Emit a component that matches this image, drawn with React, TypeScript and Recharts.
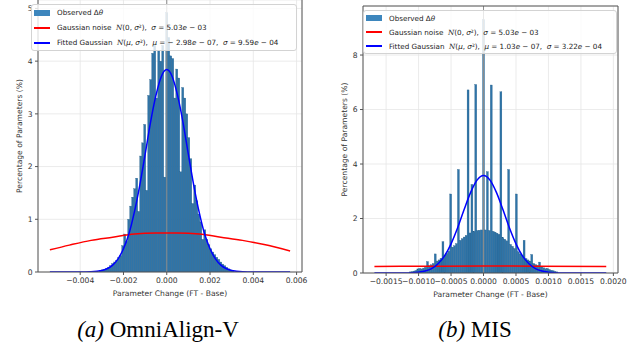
import React from 'react';
import {
  ComposedChart,
  Bar,
  Line,
  XAxis,
  YAxis,
  CartesianGrid,
  ReferenceLine,
  Legend,
} from 'recharts';

// ---------------- data ----------------
// (a) OmniAlign-V histogram: bin width and first bin centre, heights in %
const LEFT_BIN_WIDTH = 0.0000925;
const LEFT_FIRST_CENTER = -0.0030525;
const LEFT_HIST = [
  0.03, 0.04, 0.05, 0.07, 0.09, 0.12, 0.16, 0.19, 0.22, 0.27, 0.31,
  0.5, 0.72, 0.58, 1.0, 1.25, 1.42, 1.58, 1.78, 1.15, 2.2, 2.45, 2.8, 1.55, 3.35, 3.65, 4.15, 4.3, 3.3, 4.2, 4.0, 4.3, 1.8,
  4.92,
  4.45, 4.1, 4.05, 3.3, 3.85, 3.68, 1.9, 3.5, 3.3, 3.0, 2.55, 2.15, 1.3, 1.65, 1.35, 1.1, 0.95, 0.62, 0.8, 0.62, 0.52,
  0.44, 0.38, 0.33, 0.28, 0.24, 0.19, 0.15, 0.12, 0.09, 0.06, 0.04, 0.03,
];
const LEFT_BLUE_X = [
  -0.0054, -0.004, -0.0035, -0.003, -0.0025, -0.00225, -0.002, -0.00175, -0.0015, -0.00125, -0.001, -0.00075,
  -0.0005, -0.00025, 0, 0.00025, 0.0005, 0.00075, 0.001, 0.00125, 0.0015, 0.00175, 0.002, 0.00225, 0.0025, 0.003,
  0.0035, 0.004, 0.0057,
];
const LEFT_BLUE_Y = [
  0, 0.001, 0.005, 0.03, 0.13, 0.25, 0.44, 0.72, 1.13, 1.64, 2.23, 2.84, 3.35, 3.71, 3.84, 3.71, 3.35, 2.84, 2.23,
  1.64, 1.13, 0.72, 0.44, 0.25, 0.13, 0.03, 0.005, 0.001, 0,
];
const LEFT_RED_X = [-0.0054, -0.0045, -0.0035, -0.0025, -0.0015, -0.0005, 0.0005, 0.0015, 0.0025, 0.0035, 0.0045, 0.0057];
const LEFT_RED_Y = [0.42, 0.51, 0.6, 0.66, 0.72, 0.74, 0.74, 0.72, 0.66, 0.6, 0.52, 0.4];

// (b) MIS histogram
const RIGHT_BIN_WIDTH = 0.00002975;
const RIGHT_FIRST_CENTER = -0.0011305;
const RIGHT_HIST = [
  0.04, 0.05, 0.07, 0.09, 0.15, 0.17, 0.15, 0.18, 0.21, 0.42, 0.27, 0.3, 0.35, 0.7, 0.44, 0.48, 0.54, 1.15, 0.66,
  0.72, 0.8, 2.9, 0.95, 1.0, 1.08, 3.8, 1.2, 1.26, 1.32, 1.38, 6.72, 1.47, 3.25, 1.53, 6.92, 1.56, 1.57, 1.58,
  9.3,
  1.58, 3.72, 1.56, 6.9, 1.53, 1.5, 1.46, 1.42, 6.65, 1.3, 1.24, 1.18, 3.8, 1.05, 0.98, 0.9, 2.9, 0.78, 0.7, 0.64,
  1.2, 0.53, 0.48, 0.44, 0.68, 0.35, 0.31, 0.28, 0.4, 0.22, 0.19, 0.16, 0.17, 0.13, 0.1, 0.08, 0.06, 0.04,
];
const RIGHT_BLUE_X = [
  -0.00168, -0.0014, -0.0012, -0.0011, -0.001, -0.0009, -0.0008, -0.0007, -0.0006, -0.0005, -0.0004, -0.0003,
  -0.0002, -0.0001, 0, 0.0001, 0.0002, 0.0003, 0.0004, 0.0005, 0.0006, 0.0007, 0.0008, 0.0009, 0.001, 0.0011,
  0.0012, 0.0014, 0.00189,
];
const RIGHT_BLUE_Y = [
  0, 0.001, 0.003, 0.01, 0.03, 0.07, 0.16, 0.34, 0.63, 1.07, 1.65, 2.32, 2.95, 3.41, 3.58, 3.41, 2.95, 2.32, 1.65,
  1.07, 0.63, 0.34, 0.16, 0.07, 0.03, 0.01, 0.003, 0.001, 0,
];
const RIGHT_RED_X = [-0.00168, -0.0008, 0, 0.0008, 0.00189];
const RIGHT_RED_Y = [0.24, 0.25, 0.255, 0.25, 0.235];

// ticks
const LEFT_X_TICKS = [-0.004, -0.002, 0, 0.002, 0.004, 0.006];
const LEFT_X_LABELS = ['\u22120.004', '\u22120.002', '0.000', '0.002', '0.004', '0.006'];
const LEFT_Y_TICKS = [0, 1, 2, 3, 4, 5];
const RIGHT_X_TICKS = [-0.0015, -0.001, -0.0005, 0, 0.0005, 0.001, 0.0015, 0.002];
const RIGHT_X_LABELS = [
  '\u22120.0015', '\u22120.0010', '\u22120.0005', '0.0000', '0.0005', '0.0010', '0.0015', '0.0020',
];
const RIGHT_Y_TICKS = [0, 2, 4, 6, 8];

const X_TITLE = 'Parameter Change (FT - Base)';
const Y_TITLE = 'Percentage of Parameters (%)';

// ---------------- styles ----------------
const FONT = 'DejaVu Sans';
const TICK_STYLE = { fontSize: 7.6, fill: '#333', fontFamily: FONT };
const SPINE = '#555';
const BAR_FILL = '#2f74a8';
const BAR_EDGE = '#1f5a85';

const Math = ({ children }: { children: React.ReactNode }) => (
  <span style={{ fontStyle: 'italic' }}>{children}</span>
);
const Cal = () => (
  <span style={{ fontFamily: 'DejaVu Serif', fontStyle: 'italic' }}>N</span>
);

const noiseLabel = (
  <span>
    Gaussian noise&nbsp;&nbsp;<Cal />(0, <Math>σ</Math>²),&nbsp;&nbsp;<Math>σ</Math> = 5.03<Math>e</Math> − 03
  </span>
);
const leftFitLabel = (
  <span>
    Fitted Gaussian&nbsp;&nbsp;<Cal />(<Math>μ</Math>, <Math>σ</Math>²),&nbsp;&nbsp;<Math>μ</Math> = − 2.98
    <Math>e</Math> − 07,&nbsp;&nbsp;<Math>σ</Math> = 9.59<Math>e</Math> − 04
  </span>
);
const rightFitLabel = (
  <span>
    Fitted Gaussian&nbsp;&nbsp;<Cal />(<Math>μ</Math>, <Math>σ</Math>²),&nbsp;&nbsp;<Math>μ</Math> = 1.03
    <Math>e</Math> − 07,&nbsp;&nbsp;<Math>σ</Math> = 3.22<Math>e</Math> − 04
  </span>
);
const observedLabel = (
  <span>
    Observed Δ<Math>θ</Math>
  </span>
);

type Row = { kind: 'patch' | 'line'; color: string; label: React.ReactNode };

const LegendBox = ({ rows, width, rowH }: { rows: Row[]; width: number; rowH: number }) => (
  <div
    style={{
      width,
      boxSizing: 'border-box',
      border: '1px solid #d3d3d3',
      borderRadius: 3,
      background: 'rgba(255,255,255,0.8)',
      fontFamily: FONT,
      fontSize: 7.2,
      color: '#222',
      paddingLeft: 2,
    }}
  >
    {rows.map((r, i) => (
      <div key={i} style={{ display: 'flex', alignItems: 'center', height: rowH, whiteSpace: 'nowrap' }}>
        <span
          style={{
            display: 'inline-block',
            width: 16,
            height: r.kind === 'patch' ? 6 : 2,
            background: r.color,
            marginRight: 7,
            flex: 'none',
          }}
        />
        {r.label}
      </div>
    ))}
  </div>
);

type PanelProps = {
  width: number;
  height: number;
  margin: { top: number; right: number; bottom: number; left: number };
  yAxisWidth: number;
  xAxisHeight: number;
  xDomain: [number, number];
  yDomain: [number, number];
  xTicks: number[];
  xLabels: string[];
  yTicks: number[];
  hist: number[];
  firstCenter: number;
  binWidth: number;
  blueX: number[];
  blueY: number[];
  redX: number[];
  redY: number[];
  drawTop: boolean;
  legendPos: { left: number; top: number; width: number; rowH: number };
  fitLabel: React.ReactNode;
};

function Panel(p: PanelProps) {
  const bins = p.hist.map((v, k) => ({ x: p.firstCenter + k * p.binWidth, v }));
  const blue = p.blueX.map((x, i) => ({ x, y: p.blueY[i] }));
  const red = p.redX.map((x, i) => ({ x, y: p.redY[i] }));
  const rows: Row[] = [
    { kind: 'patch', color: '#3d86bd', label: observedLabel },
    { kind: 'line', color: '#ff0000', label: noiseLabel },
    { kind: 'line', color: '#0000ff', label: p.fitLabel },
  ];
  // pixel width of one histogram bin (plot width / domain span * bin width)
  const plotW = p.width - p.margin.left - p.margin.right - p.yAxisWidth;
  const binPx = (plotW / (p.xDomain[1] - p.xDomain[0])) * p.binWidth;
  const BinShape = (sp: any) => {
    if (!sp.height || sp.height <= 0) return <g />;
    const cx = sp.x + sp.width / 2;
    return (
      <rect
        x={cx - binPx / 2}
        y={sp.y}
        width={binPx}
        height={sp.height}
        fill={BAR_FILL}
        stroke={BAR_EDGE}
        strokeWidth={0.3}
      />
    );
  };
  return (
    <ComposedChart width={p.width} height={p.height} data={bins} margin={p.margin}>
      <CartesianGrid stroke="#e6e6e6" strokeWidth={0.8} />
      <XAxis
        dataKey="x"
        type="number"
        domain={p.xDomain}
        allowDataOverflow
        ticks={p.xTicks}
        interval={0}
        tickFormatter={(_v: number, i: number) => p.xLabels[i]}
        height={p.xAxisHeight}
        tickSize={3}
        tickMargin={2.5}
        stroke={SPINE}
        tick={TICK_STYLE}
        label={(lp: any) => {
          const vb = lp.viewBox;
          return (
            <text
              x={vb.x + vb.width / 2}
              y={vb.y + 21}
              textAnchor="middle"
              dominantBaseline="central"
              fontSize={7.6}
              fill="#333"
              fontFamily={FONT}
            >
              {X_TITLE}
            </text>
          );
        }}
      />
      <YAxis
        type="number"
        domain={p.yDomain}
        allowDataOverflow
        ticks={p.yTicks}
        interval={0}
        width={p.yAxisWidth}
        tickSize={3}
        tickMargin={2.5}
        stroke={SPINE}
        tick={TICK_STYLE}
        label={(lp: any) => {
          const vb = lp.viewBox;
          const x = vb.x + vb.width - 19;
          const y = vb.y + vb.height / 2;
          return (
            <text
              x={x}
              y={y}
              transform={`rotate(-90, ${x}, ${y})`}
              textAnchor="middle"
              dominantBaseline="central"
              fontSize={7.6}
              fill="#333"
              fontFamily={FONT}
            >
              {Y_TITLE}
            </text>
          );
        }}
      />
      <Bar dataKey="v" barSize={2} fill={BAR_FILL} shape={BinShape} isAnimationActive={false} />
      <ReferenceLine x={0} stroke="#8c8c8c" strokeWidth={1} />
      <ReferenceLine x={p.xDomain[1]} stroke={SPINE} strokeWidth={1} />
      {p.drawTop && <ReferenceLine y={p.yDomain[1]} stroke={SPINE} strokeWidth={1} />}
      <Line
        data={red}
        dataKey="y"
        type="monotone"
        stroke="#ff0000"
        strokeWidth={1.5}
        dot={false}
        isAnimationActive={false}
      />
      <Line
        data={blue}
        dataKey="y"
        type="monotone"
        stroke="#0000ff"
        strokeWidth={1.5}
        dot={false}
        isAnimationActive={false}
      />
      <Legend
        layout="vertical"
        align="center"
        verticalAlign="middle"
        wrapperStyle={{ left: p.legendPos.left, top: p.legendPos.top, width: p.legendPos.width }}
        content={() => <LegendBox rows={rows} width={p.legendPos.width} rowH={p.legendPos.rowH} />}
      />
    </ComposedChart>
  );
}

export default function App() {
  return (
    <div style={{ position: 'absolute', left: 0, top: 0, width: 633, height: 345, background: '#fff', overflow: 'hidden' }}>
      <div style={{ position: 'absolute', left: 0, top: 0 }}>
        <Panel
          width={316}
          height={300}
          margin={{ top: 0, right: 14, bottom: 0, left: 8 }}
          yAxisWidth={30}
          xAxisHeight={28}
          xDomain={[-0.00595, 0.00625]}
          yDomain={[0, 5.16]}
          xTicks={LEFT_X_TICKS}
          xLabels={LEFT_X_LABELS}
          yTicks={LEFT_Y_TICKS}
          hist={LEFT_HIST}
          firstCenter={LEFT_FIRST_CENTER}
          binWidth={LEFT_BIN_WIDTH}
          blueX={LEFT_BLUE_X}
          blueY={LEFT_BLUE_Y}
          redX={LEFT_RED_X}
          redY={LEFT_RED_Y}
          drawTop={false}
          legendPos={{ left: 31, top: 4, width: 266, rowH: 15 }}
          fitLabel={leftFitLabel}
        />
      </div>
      <div style={{ position: 'absolute', left: 316, top: 0 }}>
        <Panel
          width={317}
          height={300}
          margin={{ top: 6, right: 15, bottom: 0, left: 9 }}
          yAxisWidth={38}
          xAxisHeight={27}
          xDomain={[-0.001856, 0.002071]}
          yDomain={[0, 9.8]}
          xTicks={RIGHT_X_TICKS}
          xLabels={RIGHT_X_LABELS}
          yTicks={RIGHT_Y_TICKS}
          hist={RIGHT_HIST}
          firstCenter={RIGHT_FIRST_CENTER}
          binWidth={RIGHT_BIN_WIDTH}
          blueX={RIGHT_BLUE_X}
          blueY={RIGHT_BLUE_Y}
          redX={RIGHT_RED_X}
          redY={RIGHT_RED_Y}
          drawTop={true}
          legendPos={{ left: 47, top: 10, width: 254, rowH: 14 }}
          fitLabel={rightFitLabel}
        />
      </div>
      <svg width={633} height={345} style={{ position: 'absolute', left: 0, top: 0, pointerEvents: 'none' }}>
        <text x={158} y={337} textAnchor="middle" fontFamily="Liberation Serif" fontSize={23} fill="#000">
          <tspan fontStyle="italic">(a)</tspan> OmniAlign-V
        </text>
        <text x={475} y={337} textAnchor="middle" fontFamily="Liberation Serif" fontSize={23} fill="#000">
          <tspan fontStyle="italic">(b)</tspan> MIS
        </text>
      </svg>
    </div>
  );
}
